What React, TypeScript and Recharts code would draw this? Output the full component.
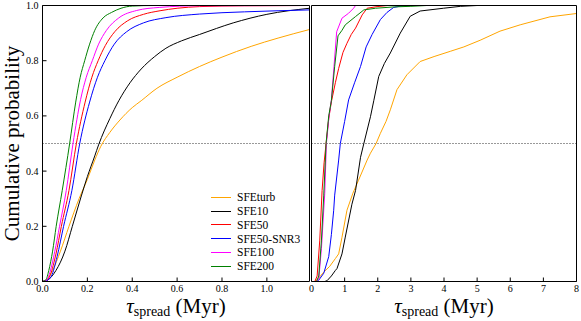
import React from 'react';
import { LineChart, Line, XAxis, YAxis, ReferenceLine, Legend } from 'recharts';

type Pt = [number, number];

const seriesNames = ['SFEturb', 'SFE10', 'SFE50', 'SFE50-SNR3', 'SFE100', 'SFE200'];
const seriesColors = ['#FFA500', '#000000', '#FF0000', '#0000FF', '#FF00FF', '#008000'];

const leftXTicks = [0, 0.2, 0.4, 0.6, 0.8, 1.0];
const rightXTicks = [0, 1, 2, 3, 4, 5, 6, 7, 8];
const yTicks = [0, 0.2, 0.4, 0.6, 0.8, 1.0];
const leftXMax = 1.19;
const rightXMax = 8;
const medianLevel = 0.5;

// Left panel: fitted (smooth) cumulative distributions
const leftSFEturb: Pt[] = [[0, 0], [0.02, 0.006], [0.045, 0.04], [0.08, 0.11], [0.118, 0.2], [0.163, 0.3], [0.2, 0.37], [0.233, 0.44], [0.26, 0.49], [0.3, 0.54], [0.345, 0.585], [0.4, 0.63], [0.44, 0.655], [0.51, 0.7], [0.6, 0.74], [0.7, 0.779], [0.8, 0.813], [0.93, 0.852], [1.05, 0.882], [1.19, 0.913]];
const leftSFE10: Pt[] = [[0, 0], [0.02, 0.004], [0.06, 0.04], [0.1, 0.11], [0.133, 0.2], [0.173, 0.31], [0.2, 0.38], [0.233, 0.455], [0.25, 0.495], [0.3, 0.59], [0.34, 0.655], [0.39, 0.72], [0.44, 0.77], [0.5, 0.815], [0.55, 0.845], [0.62, 0.872], [0.7, 0.895], [0.85, 0.937], [1.0, 0.968], [1.19, 0.99]];
const leftSFE50: Pt[] = [[0, 0], [0.02, 0.005], [0.035, 0.025], [0.06, 0.1], [0.084, 0.2], [0.118, 0.33], [0.151, 0.5], [0.19, 0.65], [0.22, 0.74], [0.248, 0.8], [0.28, 0.855], [0.322, 0.905], [0.38, 0.945], [0.45, 0.968], [0.524, 0.981], [0.6, 0.99], [0.7, 0.996], [0.9, 0.999], [1.19, 1.0]];
const leftSFE50SNR3: Pt[] = [[0, 0], [0.02, 0.004], [0.04, 0.02], [0.065, 0.09], [0.094, 0.2], [0.131, 0.33], [0.166, 0.5], [0.21, 0.65], [0.245, 0.74], [0.278, 0.8], [0.32, 0.86], [0.375, 0.905], [0.45, 0.937], [0.55, 0.956], [0.7, 0.969], [0.9, 0.977], [1.05, 0.981], [1.19, 0.984]];
const leftSFE100: Pt[] = [[0, 0], [0.02, 0.006], [0.03, 0.025], [0.055, 0.11], [0.076, 0.2], [0.106, 0.33], [0.136, 0.5], [0.17, 0.66], [0.195, 0.74], [0.222, 0.8], [0.25, 0.86], [0.285, 0.91], [0.34, 0.955], [0.42, 0.982], [0.52, 0.993], [0.7, 0.999], [1.19, 1.0]];
const leftSFE200: Pt[] = [[0, 0], [0.015, 0.006], [0.028, 0.04], [0.045, 0.11], [0.061, 0.2], [0.088, 0.33], [0.121, 0.5], [0.148, 0.65], [0.168, 0.74], [0.188, 0.8], [0.21, 0.86], [0.233, 0.91], [0.27, 0.955], [0.308, 0.975], [0.35, 0.99], [0.4, 0.998], [0.5, 1.0], [1.19, 1.0]];

// Right panel: empirical cumulative distributions
const rightSFEturb: Pt[] = [[0.1, 0], [0.2, 0.01], [0.37, 0.034], [0.55, 0.055], [0.72, 0.083], [0.82, 0.1], [0.92, 0.16], [1.07, 0.258], [1.25, 0.32], [1.42, 0.367], [1.68, 0.44], [1.78, 0.465], [1.95, 0.5], [2.08, 0.537], [2.25, 0.58], [2.38, 0.622], [2.58, 0.695], [2.88, 0.749], [3.28, 0.797], [3.7, 0.815], [4.19, 0.834], [4.6, 0.85], [5.09, 0.874], [5.69, 0.907], [6.3, 0.93], [7.2, 0.959], [8, 0.971]];
const rightSFE10: Pt[] = [[0.4, 0], [0.47, 0.003], [0.6, 0.02], [0.72, 0.04], [0.77, 0.047], [0.92, 0.1], [1.02, 0.161], [1.22, 0.28], [1.33, 0.33], [1.48, 0.45], [1.58, 0.5], [1.78, 0.597], [1.88, 0.655], [2.03, 0.743], [2.2, 0.79], [2.38, 0.828], [2.68, 0.9], [2.98, 0.961], [3.28, 0.98], [3.98, 0.99], [4.5, 0.997], [5, 1]];
const rightSFE50: Pt[] = [[0.1, 0], [0.17, 0.02], [0.25, 0.15], [0.32, 0.33], [0.38, 0.43], [0.44, 0.5], [0.52, 0.59], [0.6, 0.651], [0.72, 0.72], [0.82, 0.772], [0.95, 0.83], [1.07, 0.863], [1.2, 0.895], [1.33, 0.918], [1.53, 0.966], [1.68, 0.99], [1.98, 0.996], [2.3, 1.0]];
const rightSFE50SNR3: Pt[] = [[0.15, 0], [0.22, 0.005], [0.37, 0.03], [0.52, 0.09], [0.6, 0.17], [0.67, 0.258], [0.7, 0.313], [0.82, 0.44], [0.87, 0.5], [1.0, 0.58], [1.12, 0.658], [1.3, 0.72], [1.48, 0.779], [1.65, 0.85], [1.83, 0.895], [2.08, 0.949], [2.28, 0.975], [2.48, 0.993], [2.7, 0.998], [3, 1]];
const rightSFE100: Pt[] = [[0.15, 0], [0.22, 0.01], [0.3, 0.12], [0.4, 0.32], [0.45, 0.5], [0.53, 0.6], [0.6, 0.658], [0.68, 0.78], [0.76, 0.905], [0.92, 0.954], [1.12, 0.972], [1.27, 0.99], [1.33, 1.0]];
const rightSFE200: Pt[] = [[0.15, 0], [0.22, 0.02], [0.3, 0.15], [0.37, 0.313], [0.44, 0.5], [0.52, 0.6], [0.6, 0.655], [0.7, 0.78], [0.8, 0.89], [0.92, 0.91], [1.02, 0.93], [1.33, 0.96], [1.58, 0.984], [1.93, 0.99], [2.5, 0.995], [3.0, 0.997], [3.48, 1.0]];

const leftSeries = [leftSFEturb, leftSFE10, leftSFE50, leftSFE50SNR3, leftSFE100, leftSFE200];
const rightSeries = [rightSFEturb, rightSFE10, rightSFE50, rightSFE50SNR3, rightSFE100, rightSFE200];

const toPoints = (arr: Pt[]) => arr.map(([t, p]) => ({ t, p }));

const SERIF = "'Liberation Serif', 'Times New Roman', Tinos";
const TICK_STYLE = { fill: '#000', fontFamily: SERIF, fontSize: 10 };

function XLabel(props: any) {
  const vb = props.viewBox || {};
  const cx = vb.x + vb.width / 2;
  return (
    <text x={cx} y={313} textAnchor="middle" style={{ fontFamily: SERIF }} fontSize={21} fill="#000">
      <tspan fontStyle="italic">τ</tspan>
      <tspan fontSize={14} dy={3}>spread</tspan>
      <tspan dy={-3}>{'\u00a0(Myr)'}</tspan>
    </text>
  );
}

function YLabel() {
  return (
    <text transform="translate(18.5,143.5) rotate(-90)" textAnchor="middle" style={{ fontFamily: SERIF }} fontSize={21} fill="#000">
      Cumulative probability
    </text>
  );
}

function LegendContent(props: any) {
  const payload = [...(props.payload || [])].sort(
    (a: any, b: any) => seriesNames.indexOf(a.value) - seriesNames.indexOf(b.value)
  );
  return (
    <div style={{ fontFamily: SERIF, fontSize: 11.5, color: '#000' }}>
      {payload.map((p: any) => (
        <div key={p.value} style={{ display: 'flex', alignItems: 'center', height: 13.75, whiteSpace: 'nowrap' }}>
          <span style={{ display: 'inline-block', width: 20, height: 0, borderTop: `1px solid ${p.color}`, marginRight: 6 }} />
          <span>{p.value}</span>
        </div>
      ))}
    </div>
  );
}

export default function App() {
  return (
    <div style={{ position: 'absolute', left: 0, top: 0, width: 581, height: 321, background: '#fff' }}>
      <div style={{ position: 'absolute', left: 0, top: 0 }}>
        <LineChart width={311} height={321} margin={{ top: 4.5, right: 0.5, bottom: 0, left: 0 }}>
          <XAxis dataKey="t" type="number" domain={[0, leftXMax]} allowDataOverflow ticks={leftXTicks} interval={0}
            tickFormatter={(v: number) => v.toFixed(1)} tickSize={-4} tickMargin={7} height={39.5} stroke="#000"
            tick={TICK_STYLE} label={<XLabel />} />
          <XAxis xAxisId="top" orientation="top" type="number" domain={[0, leftXMax]} allowDataOverflow ticks={leftXTicks}
            interval={0} tick={false} tickSize={-4} height={1} stroke="#000" />
          <YAxis type="number" domain={[0, 1]} allowDataOverflow ticks={yTicks} interval={0}
            tickFormatter={(v: number) => v.toFixed(1)} tickSize={-4} tickMargin={8} width={42.5} stroke="#000"
            tick={TICK_STYLE} label={<YLabel />} />
          <YAxis yAxisId="right" orientation="right" type="number" domain={[0, 1]} allowDataOverflow ticks={yTicks}
            interval={0} tick={false} tickSize={-4} width={1} stroke="#000" />
          <ReferenceLine y={medianLevel} stroke="#333" strokeDasharray="1 2" strokeWidth={1} />
          {leftSeries.map((s, i) => (
            <Line key={seriesNames[i]} data={toPoints(s)} dataKey="p" name={seriesNames[i]} type="monotone"
              stroke={seriesColors[i]} strokeWidth={1} dot={false} isAnimationActive={false} />
          ))}
          <Legend layout="horizontal" verticalAlign="middle" align="center" content={<LegendContent />}
            wrapperStyle={{ position: 'absolute', left: 211, top: 190.5, width: 'auto', height: 'auto' }} />
        </LineChart>
      </div>
      <div style={{ position: 'absolute', left: 298, top: 0 }}>
        <LineChart width={283} height={321} margin={{ top: 4.5, right: 3.5, bottom: 0, left: 0 }}>
          <XAxis dataKey="t" type="number" domain={[0, rightXMax]} allowDataOverflow ticks={rightXTicks} interval={0}
            tickSize={-4} tickMargin={7} height={39.5} stroke="#000" tick={TICK_STYLE} label={<XLabel />} />
          <XAxis xAxisId="top" orientation="top" type="number" domain={[0, rightXMax]} allowDataOverflow ticks={rightXTicks}
            interval={0} tick={false} tickSize={-4} height={1} stroke="#000" />
          <YAxis type="number" domain={[0, 1]} allowDataOverflow ticks={yTicks} interval={0}
            tick={false} tickSize={-4} width={13.5} stroke="#000" />
          <YAxis yAxisId="right" orientation="right" type="number" domain={[0, 1]} allowDataOverflow ticks={yTicks}
            interval={0} tick={false} tickSize={-4} width={1} stroke="#000" />
          <ReferenceLine y={medianLevel} stroke="#333" strokeDasharray="1 2" strokeWidth={1} />
          {rightSeries.map((s, i) => (
            <Line key={seriesNames[i]} data={toPoints(s)} dataKey="p" name={seriesNames[i]} type="linear"
              stroke={seriesColors[i]} strokeWidth={1} dot={false} isAnimationActive={false} />
          ))}
        </LineChart>
      </div>
    </div>
  );
}
